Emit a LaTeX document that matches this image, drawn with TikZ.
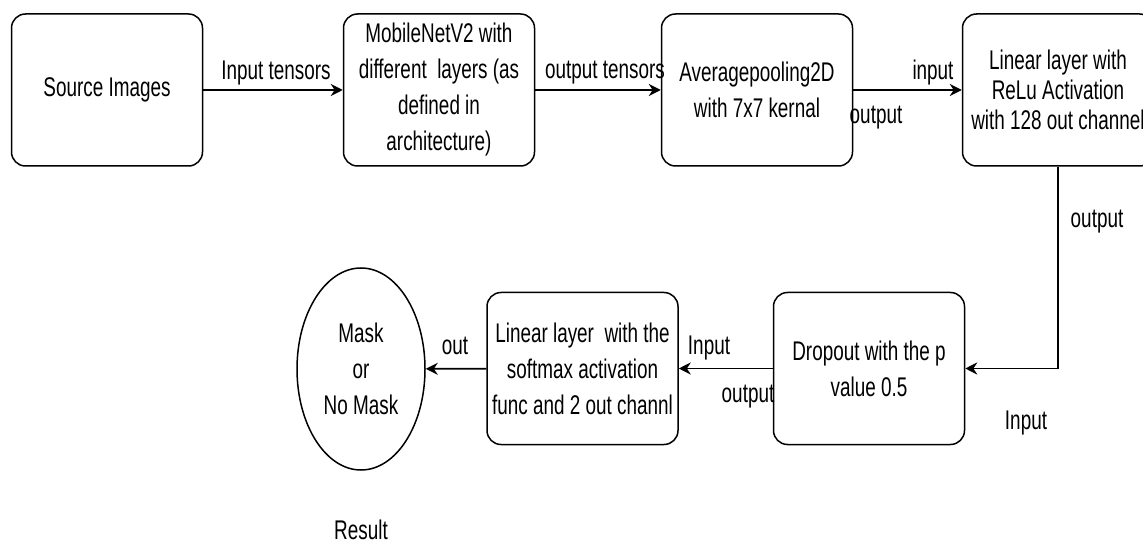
\documentclass[tikz,border=0pt]{standalone}
\usepackage{fontspec}
\setmainfont[FakeStretch=0.70]{Liberation Sans}
\usetikzlibrary{arrows.meta,shapes.geometric}
\begin{document}
\begin{tikzpicture}[x=1pt,y=-1pt,
  box/.style={draw,line width=1.5pt,rounded corners=14pt,minimum width=191pt,minimum height=152pt,align=center,font=\fontsize{27}{36}\selectfont,inner sep=0pt},
  lbl/.style={font=\fontsize{27}{36}\selectfont,inner sep=0pt},
  conn/.style={line width=1.8pt,-{Stealth[length=12pt,width=12pt]}}]
\useasboundingbox (0,0) rectangle (1143,545);
\node[box] (src) at (107,90) {Source Images};
\node[box] (mob) at (439,90) {MobileNetV2 with\\different \ layers (as\\defined in\\architecture)};
\node[box] (avg) at (757,90) {Averagepooling2D\\with 7x7 kernal};
\node[box,font=\fontsize{27}{30}\selectfont] (lin) at (1058,90) {Linear layer with\\ReLu Activation\\with 128 out channel};
\node[box] (drop) at (869,368.5) {Dropout with the p\\value 0.5};
\node[box] (soft) at (582.5,368.5) {Linear layer \ with the\\softmax activation\\func and 2 out channl};
\node[draw,ellipse,line width=1.5pt,minimum width=128pt,minimum height=202pt,align=center,font=\fontsize{27}{36}\selectfont,inner sep=0pt] (mask) at (361,369) {Mask\\or\\No Mask};
\node[lbl] (res) at (361,530) {Result};

\draw[conn] (src) -- (mob);
\draw[conn] (mob) -- (avg);
\draw[conn] (avg) -- (lin);
\draw[conn] (lin.south) |- (drop.east);
\draw[conn] (drop) -- (soft);
\draw[conn] (soft) -- (mask);

\node[lbl] (l1) at (276,73) {Input tensors};
\node[lbl] (l2) at (605,73) {output tensors};
\node[lbl] (l3) at (933,73) {input};
\node[lbl] (l4) at (876,118) {output};
\node[lbl] (l5) at (1097,222) {output};
\node[lbl] (l6) at (1026,423) {Input};
\node[lbl] (l7) at (709,348) {Input};
\node[lbl] (l8) at (748,397) {output};
\node[lbl] (l9) at (455,346) {out};
\end{tikzpicture}
\end{document}
